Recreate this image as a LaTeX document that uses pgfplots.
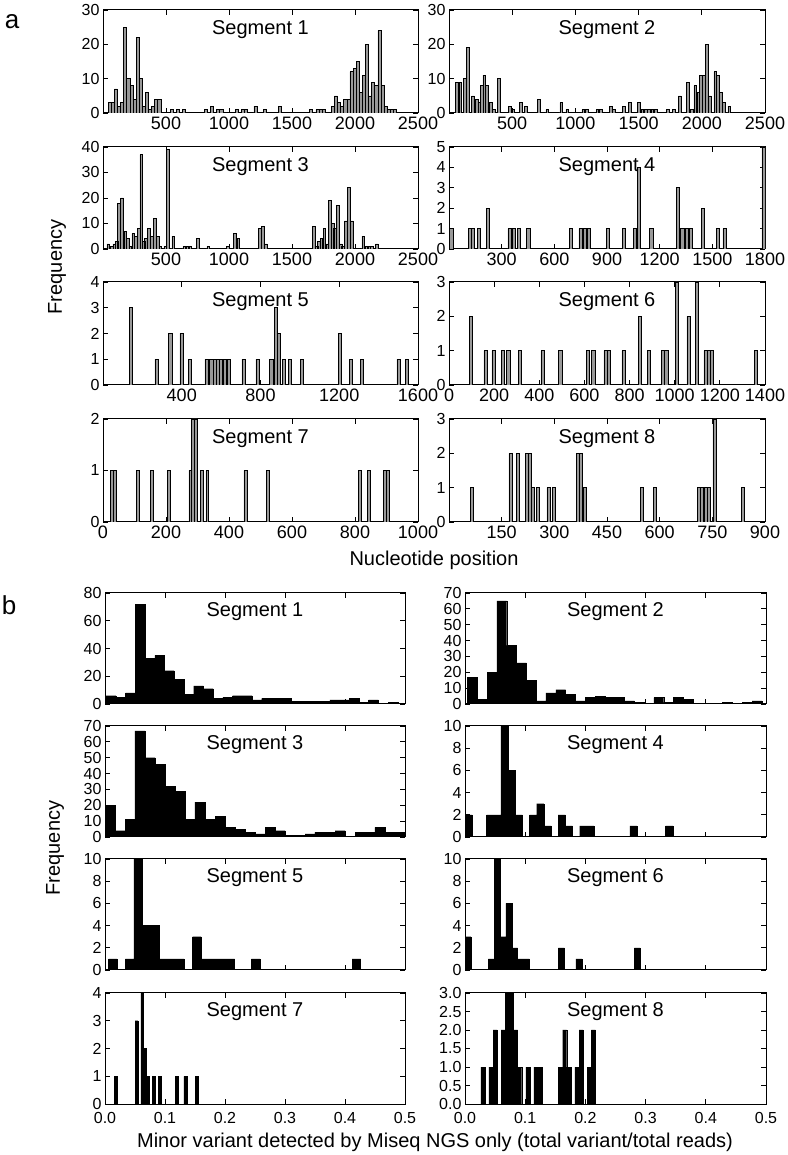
\documentclass[border=0pt]{standalone}
\usepackage{pgfplots}
\pgfplotsset{compat=1.18}
\usepackage{fontspec}
\setmainfont{Liberation Sans}
\newcommand\tf{\fontsize{16}{16}\selectfont}
\newcommand\tfx{\fontsize{18}{18}\selectfont}
\newcommand\ttl{\fontsize{20}{20}\selectfont}
\pgfplotsset{
  panel/.style={scale only axis, anchor=south west, clip=true,
    axis line style={line width=1pt},
    tick align=inside, xtick pos=both, ytick pos=both,
    major tick length=5pt,
    every tick/.append style={line width=0.8pt, black},
    tick label style={font=\tf},
    /pgf/number format/assume math mode=true,
    /pgf/number format/1000 sep={},
    ymin=0},
  pa/.style={panel, width=315pt, height=103pt, xticklabel style={font=\tfx}},
  pb/.style={panel, width=300pt, height=111pt, xmin=0, xmax=0.5,
    xtick={0,0.1,0.2,0.3,0.4,0.5}, xticklabels={}, xticklabel style={yshift=-5pt}},
  abar/.style={ybar, bar shift=0pt, fill=black!40, draw=black, line width=0.6pt},
  bbar/.style={ybar, bar shift=0pt, fill=black, draw=black, line width=0.3pt},
}
\newcommand\seg[2][-25pt]{\node[font=\ttl, anchor=base, yshift=#1] at (rel axis cs:0.5,1) {Segment #2};}
\begin{document}
\begin{tikzpicture}
\useasboundingbox (0,0) rectangle (787pt,1155pt);
% ---------------- panel a ----------------
\begin{axis}[pa, at={(103pt,1042pt)}, xmin=0, xmax=2500, ymax=30,
  xtick={500,1000,1500,2000,2500}, ytick={0,10,20,30}]
\seg{1}
\addplot[abar, bar width=24.6] coordinates {(53.3,3) (77.9,3) (102.5,7) (127.1,2) (151.7,3) (176.3,25) (200.9,10) (225.5,8) (250.1,4) (274.7,22) (299.3,10) (323.9,2) (348.5,6) (373.1,1) (397.7,2) (422.3,4) (446.9,4) (545.3,1) (594.5,1) (643.7,1) (815.9,1) (865.1,2) (914.3,1) (938.9,1) (1061.9,1) (1111.1,1) (1135.7,1) (1209.5,2) (1283.3,1) (1406.3,2) (1652.3,1) (1701.5,1) (1726.1,1) (1750.7,1) (1824.5,2) (1849.1,5) (1873.7,3) (1898.3,2) (1922.9,4) (1947.5,4) (1972.1,12) (1996.7,13) (2021.3,15) (2045.9,6) (2070.5,11) (2095.1,20) (2119.7,5) (2144.3,9) (2168.9,8) (2193.5,24) (2218.1,8) (2242.7,2) (2267.3,1) (2291.9,1) (2316.5,1)};
\end{axis}
\begin{axis}[pa, at={(449pt,1042pt)}, width=316pt, xmin=0, xmax=2500, ymax=30,
  xtick={500,1000,1500,2000,2500}, ytick={0,10,20,30}]
\seg{2}
\addplot[abar, bar width=22] coordinates {(64,9) (90,9) (125,10) (151,19) (190,5) (217,4) (240,3) (258,8) (279,11) (302,8) (328,3) (354,1) (392,10) (481,2) (508,1) (566,3) (606,2) (711,4) (777,1) (888,3) (936,1) (1063,1) (1090,1) (1174,1) (1200,1) (1280,2) (1306,1) (1385,2) (1430,3) (1500,3) (1530,1) (1556,1) (1582,1) (1608,1) (1634,1) (1733,1) (1781,1) (1826,5) (1888,9) (1919,1) (1949,8) (1972,6) (1994,11) (2016,11) (2038,20) (2064,5) (2106,12) (2128,11) (2151,6) (2177,3) (2217,2)};
\end{axis}
\begin{axis}[pa, at={(103pt,906pt)}, height=102pt, xmin=0, xmax=2500, ymax=40,
  xtick={500,1000,1500,2000,2500}, ytick={0,10,20,30,40}]
\seg{3}
\addplot[abar, bar width=21.6] coordinates {(42,2) (69,1) (90,2) (110,3) (127,18) (152,20) (176,7) (197,4) (217,1) (240,6) (263,5) (282,8) (303,37) (323,3) (342,4) (364,8) (388,5) (412,12) (435,5) (454,1) (494,1) (515,39) (558,5) (645,1) (669,1) (693,1) (751,4) (835,1) (988,1) (1048,6) (1074,4) (1246,8) (1270,9) (1291,2) (1673,9) (1697,1) (1714,3) (1733,4) (1757,8) (1780,2) (1802,19) (1825,10) (1842,8) (1863,17) (1886,2) (1904,1) (1927,11) (1953,24) (1977,11) (2065,5) (2089,1) (2113,1) (2135,1) (2172,2)};
\end{axis}
\begin{axis}[pa, at={(449pt,906pt)}, width=316pt, height=102pt, xmin=0, xmax=1800, ymax=5,
  xtick={300,600,900,1200,1500,1800}, ytick={0,1,2,3,4,5}]
\seg{4}
\addplot[abar, bar width=18] coordinates {(13,1) (119,1) (137,1) (170,1) (223,2) (345,1) (367,1) (399,1) (452,1) (694,1) (749,1) (772,1) (796,1) (904,1) (995,1) (1059,1) (1081,4) (1152,1) (1305,3) (1329,1) (1353,1) (1377,1) (1448,2) (1533,1) (1569,1) (1791,5)};
\end{axis}
\begin{axis}[pa, at={(103pt,770pt)}, xmin=0, xmax=1600, ymax=4,
  xtick={400,800,1200,1600}, ytick={0,1,2,3,4}]
\seg{5}
\addplot[abar, bar width=16] coordinates {(143,3) (272,1) (342,2) (399,2) (441,1) (526,1) (550,1) (566,1) (582,1) (598,1) (620,1) (640,1) (713,1) (785,1) (855,1) (877,3) (893,2) (918,1) (950,1) (1010,1) (1202,2) (1260,1) (1316,1) (1501,1) (1542,1)};
\end{axis}
\begin{axis}[pa, at={(449pt,770pt)}, width=316pt, xmin=0, xmax=1400, ymax=3,
  xtick={0,200,400,600,800,1000,1200,1400}, ytick={0,1,2,3}]
\seg{6}
\addplot[abar, bar width=14] coordinates {(96,2) (162,1) (197,1) (239,1) (263,1) (313,1) (414,1) (493,1) (616,1) (639,1) (693,1) (708,1) (773,1) (847,2) (885,1) (948,1) (963,1) (1010,3) (1061,2) (1099,3) (1136,1) (1150,1) (1164,1) (1359,1)};
\end{axis}
\begin{axis}[pa, at={(103pt,633pt)}, xmin=0, xmax=1000, ymax=2,
  xtick={0,200,400,600,800,1000}, ytick={0,1,2}]
\seg{7}
\addplot[abar, bar width=9] coordinates {(29,1) (38,1) (110,1) (155,1) (208,1) (277,1) (286,2) (295,2) (313,1) (331,1) (452,1) (524,1) (815,1) (843,1) (894,1) (903,1)};
\end{axis}
\begin{axis}[pa, at={(449pt,633pt)}, width=316pt, xmin=0, xmax=900, ymax=3,
  xtick={150,300,450,600,750,900}, ytick={0,1,2,3}]
\seg{8}
\addplot[abar, bar width=8.5] coordinates {(65,1) (175,2) (197,2) (221,2) (229,2) (238,1) (254,1) (283,1) (298,1) (368,2) (376,2) (388,1) (549,1) (587,1) (712,1) (721,1) (730,1) (739,1) (756,3) (837,1)};
\end{axis}
% ---------------- panel b ----------------
\begin{axis}[pb, at={(105pt,451pt)}, ymax=80, ytick={0,20,40,60,80}]
\seg[-24pt]{1}
\addplot[bbar, bar width=0.0162] coordinates {(0.0101,6) (0.0263,5) (0.0425,8) (0.0587,72) (0.0749,33) (0.0911,35) (0.1073,24) (0.1235,18) (0.1397,7) (0.1559,13) (0.1721,11) (0.1883,4) (0.2045,5) (0.2207,6) (0.2369,6) (0.2531,3) (0.2693,4) (0.2855,4) (0.3017,4) (0.3179,2) (0.3341,2) (0.3503,2) (0.3665,2) (0.3827,3) (0.3989,3) (0.4151,4) (0.4313,1) (0.4475,3) (0.4799,1)};
\end{axis}
\begin{axis}[pb, at={(465pt,451pt)}, width=301pt, ymax=70, ytick={0,10,20,30,40,50,60,70}]
\seg[-24pt]{2}
\addplot[bbar, bar width=0.0163] coordinates {(0.0122,17) (0.0285,3) (0.0448,20) (0.0611,65) (0.0774,37) (0.0937,26) (0.1100,15) (0.1263,2) (0.1426,7) (0.1589,9) (0.1752,6) (0.1915,2) (0.2078,4) (0.2241,5) (0.2404,4) (0.2567,4) (0.2730,2) (0.2893,1) (0.3219,4) (0.3382,1) (0.3545,4) (0.3708,3) (0.4360,1) (0.4686,1) (0.4849,2)};
\end{axis}
\begin{axis}[pb, at={(105pt,318pt)}, ymax=70, ytick={0,10,20,30,40,50,60,70}]
\seg[-24pt]{3}
\addplot[bbar, bar width=0.01667] coordinates {(0.0083,20) (0.025,4) (0.0417,11) (0.0583,67) (0.075,50) (0.0917,46) (0.1083,32) (0.125,29) (0.1417,11) (0.1583,22) (0.175,11) (0.1917,13) (0.2083,6) (0.225,5) (0.2417,3) (0.2583,2) (0.275,6) (0.2917,4) (0.3083,1) (0.325,1) (0.3417,2) (0.3583,3) (0.375,3) (0.3917,4) (0.425,3) (0.4417,3) (0.4583,6) (0.475,3) (0.4917,3)};
\end{axis}
\begin{axis}[pb, at={(465pt,318pt)}, width=301pt, ymax=10, ytick={0,2,4,6,8,10}]
\seg[-24pt]{4}
\addplot[bbar, bar width=0.0119] coordinates {(0.006,2) (0.0417,2) (0.0536,2) (0.0655,10) (0.0774,6) (0.0893,2) (0.1131,2) (0.125,3) (0.1369,1) (0.1607,2) (0.1726,1) (0.1964,1) (0.2083,1) (0.2797,1) (0.3392,1)};
\end{axis}
\begin{axis}[pb, at={(105pt,185pt)}, ymax=10, ytick={0,2,4,6,8,10}]
\seg[-24pt]{5}
\addplot[bbar, bar width=0.014] coordinates {(0.013,1) (0.041,1) (0.055,10) (0.069,4) (0.083,4) (0.097,1) (0.111,1) (0.125,1) (0.153,3) (0.167,1) (0.181,1) (0.195,1) (0.209,1) (0.251,1) (0.419,1)};
\end{axis}
\begin{axis}[pb, at={(465pt,185pt)}, width=301pt, ymax=10, ytick={0,2,4,6,8,10}]
\seg[-24pt]{6}
\addplot[bbar, bar width=0.0097] coordinates {(0.0049,3) (0.0437,1) (0.0534,10) (0.0631,3) (0.0728,6) (0.0825,2) (0.0922,1) (0.1019,1) (0.1601,2) (0.1892,1) (0.2862,2)};
\end{axis}
\begin{axis}[pb, at={(105pt,51pt)}, ymax=4, ytick={0,1,2,3,4},
  xticklabels={0.0,0.1,0.2,0.3,0.4,0.5}]
\seg[-24pt]{7}
\addplot[bbar, bar width=0.0048] coordinates {(0.0175,1) (0.0525,3) (0.0620,4) (0.0668,2) (0.0716,1) (0.0812,1) (0.0908,1) (0.1196,1) (0.1340,1) (0.1532,1)};
\end{axis}
\begin{axis}[pb, at={(465pt,51pt)}, width=301pt, ymax=3, ytick={0,0.5,1,1.5,2,2.5,3},
  yticklabels={0.0,0.5,1.0,1.5,2.0,2.5,3.0},
  xticklabels={0.0,0.1,0.2,0.3,0.4,0.5}]
\seg[-24pt]{8}
\addplot[bbar, bar width=0.0068] coordinates {(0.0296,1) (0.0432,1) (0.0500,2) (0.0636,2) (0.0704,3) (0.0772,3) (0.0840,2) (0.0908,1) (0.1044,1) (0.1180,1) (0.1248,1) (0.1588,1) (0.1656,2) (0.1724,1) (0.1860,1) (0.1928,2) (0.2064,1) (0.2132,2)};
\end{axis}
% ---------------- labels ----------------
\node[font=\fontsize{26}{26}\selectfont] at (12pt,1133pt) {a};
\node[font=\fontsize{26}{26}\selectfont] at (9pt,550pt) {b};
\node[font=\ttl, rotate=90] at (57pt,888pt) {Frequency};
\node[font=\ttl, rotate=90] at (55pt,307pt) {Frequency};
\node[font=\ttl] at (434pt,595pt) {Nucleotide position};
\node[font=\ttl] at (435pt,13pt) {Minor variant detected by Miseq NGS only (total variant/total reads)};
\end{tikzpicture}
\end{document}
